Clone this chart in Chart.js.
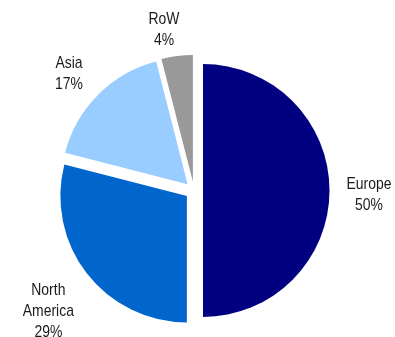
<!DOCTYPE html>
<html>
<head>
<meta charset="utf-8">
<script src="https://cdn.jsdelivr.net/npm/chart.js@4.4.0/dist/chart.umd.min.js"></script>
<style>
    html, body { margin: 0; padding: 0; background: #ffffff; }
</style>
</head>
<body>
<canvas id="myChart" width="395" height="337"></canvas>
<script>
// Dados do gráfico
const regions = ['Europe', 'North\nAmerica', 'Asia', 'RoW']; // \n = quebra de linha no rótulo
const shares = [50, 29, 17, 4]; // percentuais
const sliceColors = ['#000080', '#0066CC', '#99CCFF', '#999999'];

// Afasta cada fatia do centro (explode)
const explodePlugin = {
    id: 'explode',
    afterUpdate(chart, args, opts) {
        const meta = chart.getDatasetMeta(0);
        meta.data.forEach(arc => {
            const mid = (arc.startAngle + arc.endAngle) / 2;
            arc.baseX = arc.x;
            arc.baseY = arc.y;
            arc.x += Math.cos(mid) * opts.distance;
            arc.y += Math.sin(mid) * opts.distance;
        });
    }
};

// Rótulos fora da pizza: nome + percentual (fonte estreita via escala horizontal)
const outsideLabels = {
    id: 'outsideLabels',
    afterDatasetsDraw(chart, args, opts) {
        const ctx = chart.ctx;
        const meta = chart.getDatasetMeta(0);
        ctx.save();
        ctx.font = opts.font;
        ctx.fillStyle = opts.color;
        ctx.textAlign = 'center';
        ctx.textBaseline = 'alphabetic';
        meta.data.forEach((arc, i) => {
            const lines = regions[i].split('\n').concat(shares[i] + '%');
            const mid = (arc.startAngle + arc.endAngle) / 2;
            const ux = Math.cos(mid), uy = Math.sin(mid);
            const w = Math.max(...lines.map(l => ctx.measureText(l).width)) * opts.squeeze;
            const h = (lines.length - 1) * opts.lineHeight + opts.capHeight;
            const ext = Math.abs(ux) * w / 2 + Math.abs(uy) * h / 2;
            const d = arc.outerRadius + opts.gap + ext;
            const nudge = opts.nudge[i] || [0, 0];
            const cx = arc.baseX + ux * d + nudge[0];
            const cy = arc.baseY + uy * d + nudge[1];
            const top = cy - h / 2;
            lines.forEach((l, k) => {
                ctx.save();
                ctx.translate(cx, top + opts.capHeight + k * opts.lineHeight);
                ctx.scale(opts.squeeze, 1);
                ctx.fillText(l, 0, 0);
                ctx.restore();
            });
        });
        ctx.restore();
    }
};

const ctx = document.getElementById('myChart').getContext('2d');
new Chart(ctx, {
    type: 'pie',
    data: {
        labels: regions.map(r => r.replace('\n', ' ')),
        datasets: [{
            data: shares,
            backgroundColor: sliceColors,
            borderWidth: 0
        }]
    },
    plugins: [explodePlugin, outsideLabels],
    options: {
        responsive: false,
        animation: false,
        events: [],
        radius: 126.5,
        layout: {
            padding: { left: 40, right: 47, top: 50, bottom: 6 }
        },
        plugins: {
            legend: { display: false },
            tooltip: { enabled: false },
            explode: { distance: 9 },
            outsideLabels: {
                font: '17px "Liberation Sans", Arial, sans-serif',
                squeeze: 0.82,
                color: '#1a1a1a',
                lineHeight: 21,
                capHeight: 12,
                gap: 23,
                nudge: [[3, 3], [1.5, 5], [-4, 2.5], [-9, 4]] // ajuste fino da posição dos rótulos
            }
        }
    }
});
</script>
</body>
</html>
